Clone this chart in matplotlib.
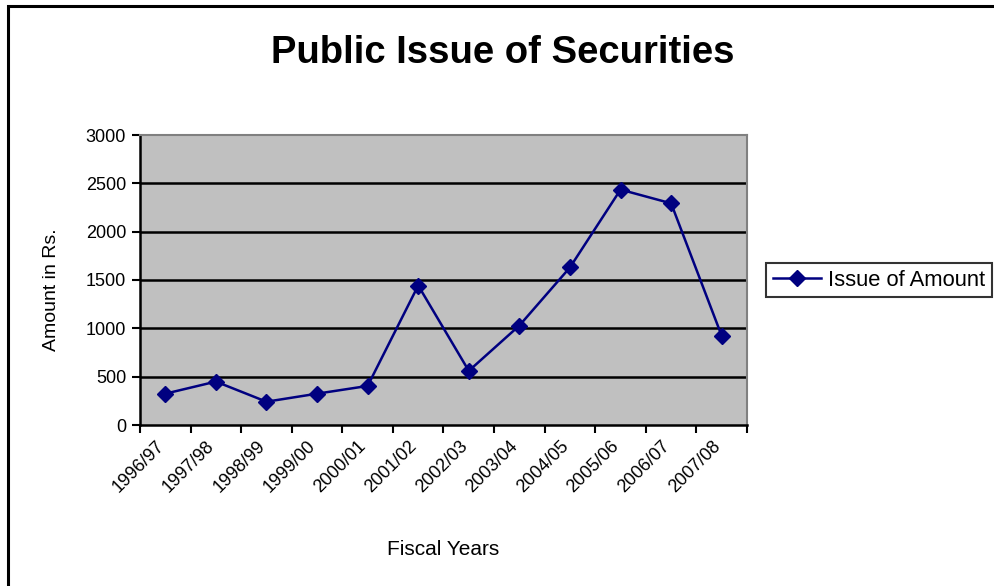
import matplotlib

matplotlib.use("Agg")
import matplotlib.pyplot as plt
import numpy as np
from matplotlib.patches import Rectangle

plt.rcParams["font.family"] = ["Liberation Sans", "DejaVu Sans"]

fiscal_years = [
    "1996/97", "1997/98", "1998/99", "1999/00", "2000/01", "2001/02",
    "2002/03", "2003/04", "2004/05", "2005/06", "2006/07", "2007/08",
]
issue_amount = [324, 449, 241, 324, 404, 1443, 560, 1029, 1630, 2435, 2293, 922]
y_ticks = [0, 500, 1000, 1500, 2000, 2500, 3000]

W, H = 995, 586
fig = plt.figure(figsize=(W / 100, H / 100), dpi=100)
fig.patch.set_facecolor("white")

# outer chart border (right/bottom edges fall outside the picture)
fig.add_artist(Rectangle((8 / W, -0.05), 1.1, 1 - 6 / H + 0.05, transform=fig.transFigure,
                         fill=False, edgecolor="black", lw=2.2))

ax = fig.add_axes([140 / W, (H - 425) / H, 607 / W, 290 / H])
ax.set_facecolor("#C0C0C0")

x = np.arange(len(fiscal_years))
ax.plot(x, issue_amount, color="#000080", lw=1.8, marker="D", markersize=8,
        markerfacecolor="#000080", markeredgecolor="#000080", label="Issue of Amount", zorder=3)

ax.set_xlim(-0.5, len(fiscal_years) - 0.5)
ax.set_ylim(0, 3000)
ax.set_yticks(y_ticks)
ax.set_yticklabels([str(v) for v in y_ticks], fontsize=13)

for v in y_ticks[1:-1]:
    ax.axhline(v, color="black", lw=1.8, zorder=1)

# labels sit a little left of the category centre, as in the original
ax.set_xticks(x - 0.2)
ax.set_xticklabels(fiscal_years, rotation=45, ha="right", va="top", rotation_mode="anchor", fontsize=13)
ax.set_xticks(np.arange(-0.5, len(fiscal_years)), minor=True)
ax.tick_params(axis="x", which="major", length=0, pad=9)
ax.tick_params(axis="x", which="minor", length=6, width=1.5, direction="out")
ax.tick_params(axis="y", length=6, width=1.5, direction="out", pad=4)

for side in ("top", "right"):
    ax.spines[side].set_color("#808080")
    ax.spines[side].set_linewidth(1.5)
for side in ("left", "bottom"):
    ax.spines[side].set_color("black")
    ax.spines[side].set_linewidth(1.8)

ax.set_xlabel("Fiscal Years", fontsize=15, labelpad=32)
ax.set_ylabel("Amount in Rs.", fontsize=14)
ax.yaxis.set_label_coords(-0.132, 0.465)
fig.text(503 / W, 1 - 53 / H, "Public Issue of Securities", ha="center", va="center",
         fontsize=27.5, fontweight="bold")

leg = fig.legend(loc="center left", bbox_to_anchor=(766 / W, 1 - 280 / H), fontsize=15.8,
                 frameon=True, fancybox=False, borderpad=0.3, borderaxespad=0,
                 handlelength=2.2, handletextpad=0.33)
leg.get_frame().set_edgecolor("black")
leg.get_frame().set_linewidth(1.5)

fig.savefig("out.png", dpi=100)
